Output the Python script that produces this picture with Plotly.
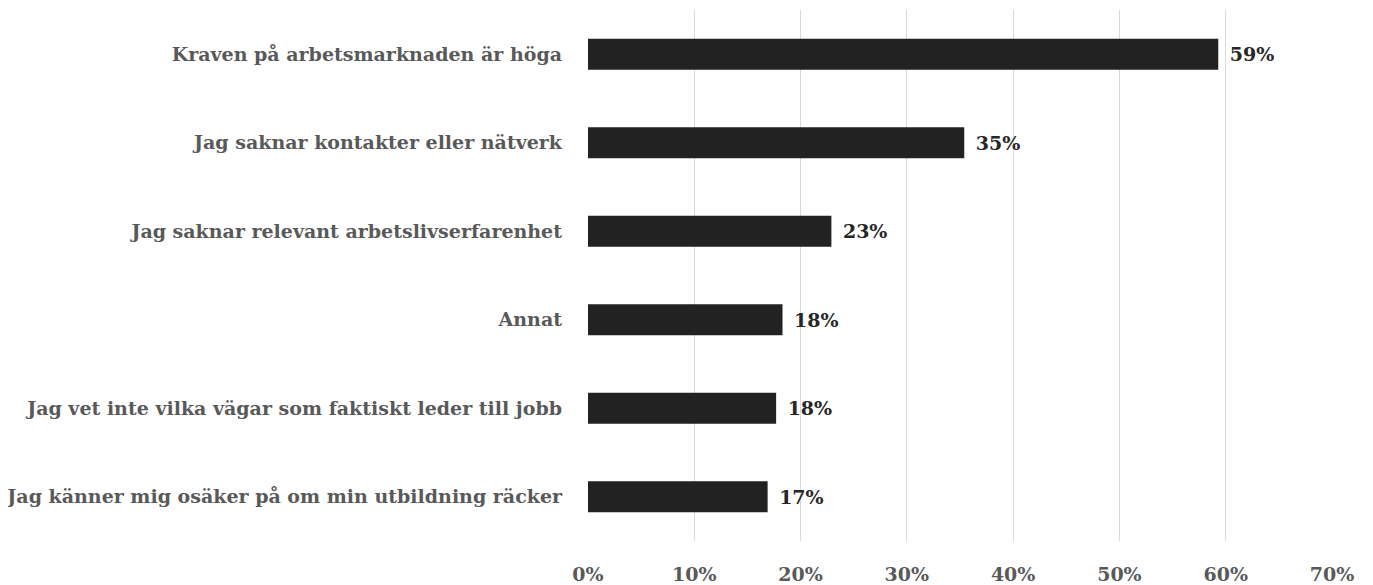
import plotly.graph_objects as go

categories = [
    "Kraven på arbetsmarknaden är höga",
    "Jag saknar kontakter eller nätverk",
    "Jag saknar relevant arbetslivserfarenhet",
    "Annat",
    "Jag vet inte vilka vägar som faktiskt leder till jobb",
    "Jag känner mig osäker på om min utbildning räcker",
]
values = [0.593, 0.354, 0.229, 0.183, 0.177, 0.169]
labels = ["59%", "35%", "23%", "18%", "18%", "17%"]
tick_vals = [0, 0.1, 0.2, 0.3, 0.4, 0.5, 0.6, 0.7]
tick_text = ["0%", "10%", "20%", "30%", "40%", "50%", "60%", "70%"]

FONT = "DejaVu Serif"
SIZE = 19

fig = go.Figure(
    go.Bar(
        x=values,
        y=categories,
        orientation="h",
        marker=dict(color="#222222", line=dict(width=0)),
        text=[" \u200a" + t for t in labels],
        textposition="outside",
        textfont=dict(family=FONT, size=SIZE, color="#262626", weight="bold"),
        cliponaxis=False,
    )
)

fig.update_layout(
    width=1373,
    height=585,
    margin=dict(l=580, r=49, t=2, b=52),
    paper_bgcolor="white",
    plot_bgcolor="white",
    bargap=0.65,
    showlegend=False,
    font=dict(family=FONT, size=SIZE, color="#595959", weight="bold"),
)
fig.update_xaxes(
    range=[0, 0.7],
    tickvals=tick_vals,
    ticktext=tick_text,
    showgrid=True,
    gridcolor="#d9d9d9",
    gridwidth=1,
    zeroline=False,
    showline=False,
    ticks="",
    automargin=False,
    ticklabelstandoff=20,
    tickfont=dict(family=FONT, size=SIZE, color="#595959", weight="bold"),
)
fig.update_yaxes(
    autorange="reversed",
    showgrid=False,
    showline=False,
    zeroline=False,
    ticks="",
    automargin=False,
    ticklabelstandoff=25,
    tickfont=dict(family=FONT, size=SIZE, color="#595959", weight="bold"),
)

fig.write_html("out.html")
